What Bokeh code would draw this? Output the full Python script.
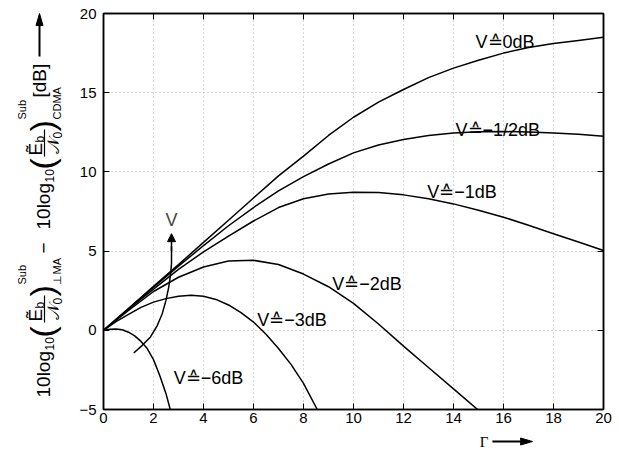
from math import pi
from bokeh.plotting import figure
from bokeh.layouts import row, column
from bokeh.models import (ColumnDataSource, LinearAxis, Label, Arrow, NormalHead,
                          Range1d, FixedTicker)
from bokeh.core.properties import value
from bokeh.embed import file_html
from bokeh.resources import INLINE

# ---------------- data ----------------
g_0dB = [0, 1, 2, 3, 4, 5, 6, 7, 8, 9, 10, 11, 12, 13, 14, 15, 16, 17, 18, 19, 20]
v_0dB = [0, 1.38, 2.77, 4.15, 5.55, 6.95, 8.35, 9.75, 11.0, 12.3, 13.45, 14.4, 15.2,
         15.95, 16.55, 17.05, 17.5, 17.85, 18.1, 18.3, 18.5]

g_m05dB = [0, 1, 2, 3, 4, 5, 6, 7, 8, 9, 10, 11, 12, 13, 14, 15, 16, 17, 18, 19, 20]
v_m05dB = [0, 1.37, 2.72, 4.05, 5.35, 6.6, 7.75, 8.8, 9.7, 10.5, 11.2, 11.7, 12.05,
           12.3, 12.45, 12.53, 12.55, 12.52, 12.46, 12.37, 12.25]

g_m1dB = [0, 1, 2, 3, 4, 5, 6, 7, 8, 9, 10, 11, 12, 13, 14, 15, 16, 17, 18, 19, 20]
v_m1dB = [0, 1.33, 2.6, 3.85, 4.95, 5.95, 6.9, 7.75, 8.3, 8.6, 8.72, 8.7, 8.55,
          8.3, 7.98, 7.58, 7.14, 6.63, 6.1, 5.57, 5.04]

g_m2dB = [0, 1, 2, 3, 4, 5, 6, 7, 8, 9, 10, 11, 12, 13, 14, 15]
v_m2dB = [0, 1.25, 2.45, 3.35, 4.0, 4.38, 4.42, 4.15, 3.55, 2.75, 1.7, 0.4, -1.0,
          -2.35, -3.7, -5.05]

g_m3dB = [0, 0.5, 1, 1.5, 2, 2.5, 3, 3.5, 4, 4.5, 5, 5.5, 6, 6.5, 7, 7.5, 8, 8.55]
v_m3dB = [0, 0.55, 1.0, 1.45, 1.78, 2.0, 2.15, 2.22, 2.15, 1.95, 1.6, 1.12, 0.52,
          -0.25, -1.15, -2.15, -3.35, -5.0]

g_m6dB = [0, 0.25, 0.5, 0.75, 1.0, 1.25, 1.5, 1.75, 2.0, 2.25, 2.5, 2.67]
v_m6dB = [0, 0.07, 0.08, 0.03, -0.12, -0.35, -0.7, -1.15, -1.85, -2.85, -4.0, -5.0]

curve_labels = ["V≙0dB", "V≙−1/2dB", "V≙−1dB", "V≙−2dB", "V≙−3dB", "V≙−6dB"]
label_x = [14.88, 14.08, 12.95, 9.15, 6.15, 2.81]
label_y = [18.2, 12.63, 8.72, 2.94, 0.63, -3.0]

# direction arrow "V" (increasing V)
varrow_x = [1.21, 1.55, 1.88, 2.15, 2.35, 2.5, 2.61, 2.68, 2.72, 2.72]
varrow_y = [-1.43, -0.95, -0.42, 0.3, 1.05, 1.9, 2.73, 3.5, 4.2, 5.3]

x_ticks = [0, 2, 4, 6, 8, 10, 12, 14, 16, 18, 20]
y_ticks = [-5, 0, 5, 10, 15, 20]

x_title = "\u0393"
y_title_parts = ["10log", "10", "(", "E\u0303", "b", "\U0001D4A9", "0", ")", "Sub", "\u22a5MA",
                 "\u2212", "10log", "10", "(", "E\u0303", "b", "\U0001D4A9", "0", ")", "Sub",
                 "CDMA", "[dB]"]

FONT = "Liberation Sans"
H = 453
LEFT_W = 70
MAIN_H = 429

# ---------------- main figure ----------------
p = figure(width=619 - LEFT_W, height=MAIN_H, output_backend="svg", toolbar_location=None,
           x_range=Range1d(0, 20), y_range=Range1d(-5, 20),
           min_border_left=103 - LEFT_W, min_border_right=16, min_border_top=13,
           min_border_bottom=MAIN_H - 409)
p.background_fill_color = "white"
p.border_fill_color = "white"
p.outline_line_color = "black"
p.outline_line_width = 1.5

for ax in (p.xaxis[0], p.yaxis[0]):
    ax.major_tick_in = 6
    ax.major_tick_out = 0
    ax.minor_tick_line_color = None
    ax.axis_line_width = 1.5
    ax.axis_line_color = "black"
    ax.major_tick_line_color = "black"
    ax.major_label_text_font = FONT
    ax.major_label_text_font_size = "15px"
    ax.major_label_text_color = "black"
p.xaxis.ticker = FixedTicker(ticks=x_ticks)
p.yaxis.ticker = FixedTicker(ticks=y_ticks)
p.xaxis.major_label_standoff = 3
p.yaxis.major_label_standoff = 7

for loc, tk in (("above", x_ticks), ("right", y_ticks)):
    a = LinearAxis(ticker=FixedTicker(ticks=tk), major_tick_in=6, major_tick_out=0,
                   minor_tick_line_color=None,
                   major_label_overrides={t: "" for t in tk},
                   major_label_standoff=0, axis_line_width=1.5)
    p.add_layout(a, loc)

for g in (p.xgrid[0], p.ygrid[0]):
    g.grid_line_color = "#b4b4b4"
    g.grid_line_dash = "1 3"
    g.grid_line_width = 1
p.xgrid.ticker = FixedTicker(ticks=x_ticks)
p.ygrid.ticker = FixedTicker(ticks=y_ticks)

for gx, vy in ((g_0dB, v_0dB), (g_m05dB, v_m05dB), (g_m1dB, v_m1dB),
               (g_m2dB, v_m2dB), (g_m3dB, v_m3dB), (g_m6dB, v_m6dB)):
    p.line(gx, vy, line_color="black", line_width=1.5)

src = ColumnDataSource(dict(x=label_x, y=label_y, t=curve_labels))
p.text(x="x", y="y", text="t", source=src, text_font=value(FONT),
       text_font_size="18px", text_align="left", text_baseline="middle",
       text_color="black")

p.line(varrow_x, varrow_y, line_color="black", line_width=1.5)
p.add_layout(Arrow(end=NormalHead(size=8, fill_color="black", line_color="black"),
                   x_start=varrow_x[-1], y_start=varrow_y[-1] - 0.3,
                   x_end=varrow_x[-1], y_end=6.1, line_width=1.5))
p.add_layout(Label(x=2.72, y=6.95, text="V", text_font=FONT, text_font_size="18px",
                   text_align="center", text_baseline="middle"))

# ---------------- left strip: rotated y title (pixel coordinates) ----------------
left = figure(width=LEFT_W, height=H, output_backend="svg", toolbar_location=None,
              x_range=Range1d(0, LEFT_W), y_range=Range1d(0, H),
              x_axis_type=None, y_axis_type=None,
              min_border_left=0, min_border_right=0, min_border_top=0, min_border_bottom=0)
left.outline_line_color = None
left.grid.visible = False
left.background_fill_color = "white"
left.border_fill_color = "white"

C = 43          # centre column of the main text
# centre px, start py, size for each part of y_title_parts
lay = [(C, 397, 19), (C + 6, 350, 12), (C - 2, 337, 34), (C - 8, 321, 19), (C - 4, 308, 12),
       (C + 10, 319, 17), (C + 14, 304, 12), (C - 2, 296, 34), (C - 22, 284, 11),
       (C + 13, 284, 11),
       (C, 253, 19), (C, 229, 19), (C + 6, 182, 12), (C - 2, 169, 34), (C - 8, 155, 19),
       (C - 4, 142, 12), (C + 10, 153, 17), (C + 14, 138, 12), (C - 2, 131, 34),
       (C - 22, 119, 11), (C + 13, 119, 11), (39, 97, 19)]
for t, (cx, sy, fs) in zip(y_title_parts, lay):
    left.text(x=[cx], y=[H - sy], text=[t], angle=pi / 2, text_font=value(FONT),
              text_font_size=f"{fs}px", text_align="left", text_baseline="middle",
              text_color="black")
# fraction bars
for y0, y1 in ((322, 295), (156, 129)):
    left.line([C + 1, C + 1], [H - y0, H - y1], line_color="black", line_width=1.2)
# arrow
left.line([39, 39], [H - 56, H - 22], line_color="black", line_width=2)
left.patch([35.5, 42.5, 39], [H - 25, H - 25, H - 13], fill_color="black",
           line_color="black")

# ---------------- bottom strip: x title ----------------
BH = H - MAIN_H
bottom = figure(width=619 - LEFT_W, height=BH, output_backend="svg", toolbar_location=None,
                x_range=Range1d(LEFT_W, 619), y_range=Range1d(MAIN_H, H),
                x_axis_type=None, y_axis_type=None,
                min_border_left=0, min_border_right=0, min_border_top=0, min_border_bottom=0)
bottom.outline_line_color = None
bottom.grid.visible = False
bottom.background_fill_color = "white"
bottom.border_fill_color = "white"
# y here is measured downward: convert py -> MAIN_H + H - py
def by(py):
    return MAIN_H + H - py
bottom.text(x=[483], y=[by(441)], text=[x_title], text_font=value("Liberation Serif"),
            text_font_size="15px", text_align="left", text_baseline="middle",
            text_color="black")
bottom.line([497, 530], [by(441), by(441)], line_color="black", line_width=2)
bottom.patch([528, 528, 541], [by(437.5), by(444.5), by(441)], fill_color="black",
             line_color="black")

layout = row(left, column(p, bottom, spacing=0), spacing=0)
open("out.html", "w").write(file_html(layout, INLINE))
